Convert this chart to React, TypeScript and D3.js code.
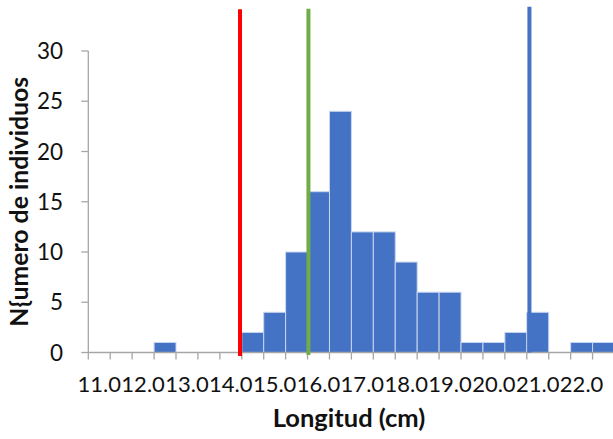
import React from "react";
import * as d3 from "d3";

const binLabels = ["11.0","11.5","12.0","12.5","13.0","13.5","14.0","14.5","15.0","15.5","16.0","16.5","17.0","17.5","18.0","18.5","19.0","19.5","20.0","20.5","21.0","21.5","22.0","22.5"];
const counts = [0,0,0,1,0,0,0,2,4,10,16,24,12,12,9,6,6,1,1,2,4,0,1,1];
const tickLabels = ["11.0","12.0","13.0","14.0","15.0","16.0","17.0","18.0","19.0","20.0","21.0","22.0"];
const yTicks = [0,5,10,15,20,25,30];
const refValues = [14.46, 16.02, 21.06];
const refTops = [34.15, 34.2, 34.4];
const refBottoms = [-0.35, -0.25, 0];
const refColors = ["#ff0000", "#70ad47", "#4472c4"];

const W = 613, H = 439;
const left = 88.3, right = 614.5, top = 51, bottom = 352.5;
const FONT = "Lato, 'Open Sans', sans-serif";

export default function App() {
  const x = d3.scaleBand<string>().domain(binLabels).range([left, right]).padding(0);
  const y = d3.scaleLinear().domain([0, 30]).range([bottom, top]);
  const xv = d3.scaleLinear().domain([11, 23]).range([left, right]);
  const bw = x.bandwidth();
  const tickPos = binLabels.map((b) => x(b)!).concat([right]);
  return (
    <svg width={W} height={H} style={{ position: "absolute", left: 0, top: 0 }} fontFamily={FONT}>
      <rect width={W} height={H} fill="#fff" />
      {counts.map((c, i) =>
        c > 0 ? (
          <rect key={i} x={x(binLabels[i])!} y={y(c)} width={bw} height={y(0) - y(c)}
            fill="#4472c4" stroke="#c9d6ef" strokeWidth={1} />
        ) : null
      )}
      <line x1={left} x2={left} y1={y(30)} y2={y(0)} stroke="#a6a6a6" strokeWidth={1.3} />
      {yTicks.map((t) => (
        <g key={t}>
          <line x1={left - 7} x2={left} y1={y(t)} y2={y(t)} stroke="#a6a6a6" strokeWidth={1.3} />
          <text x={63} y={y(t)} dy="0.36em" textAnchor="end" fontSize={22.5} fill="#111">{t}</text>
        </g>
      ))}
      <line x1={left} x2={right} y1={y(0)} y2={y(0)} stroke="#a6a6a6" strokeWidth={1.5} />
      {tickPos.map((p, i) => (
        <line key={i} x1={p} x2={p} y1={y(0)} y2={y(0) + 7} stroke="#a6a6a6" strokeWidth={1.3} />
      ))}
      {tickLabels.map((l) => (
        <text key={l} x={x(l)! + bw / 2} y={391.5} textAnchor="middle" fontSize={22} fill="#111">{l}</text>
      ))}
      {refValues.map((v, i) => (
        <line key={i} x1={xv(v)} x2={xv(v)} y1={y(refTops[i])} y2={y(refBottoms[i])}
          stroke={refColors[i]} strokeWidth={4} />
      ))}
      <text x={349} y={427} textAnchor="middle" fontSize={25.5} fontWeight="bold" fill="#111">Longitud (cm)</text>
      <text transform={`translate(28,${(top + bottom) / 2}) rotate(-90)`} textAnchor="middle" fontSize={24.8} fontWeight="bold" fill="#111">N{"{"}umero de individuos</text>
    </svg>
  );
}
